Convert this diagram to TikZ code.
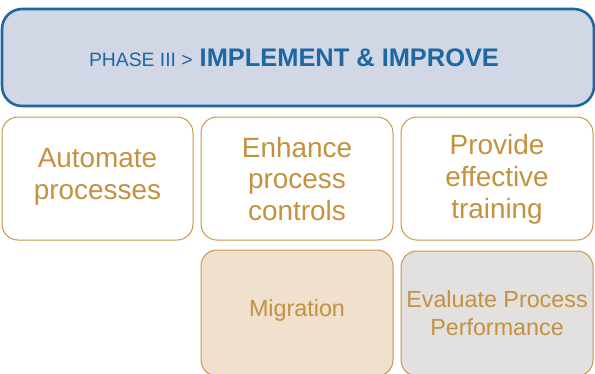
\documentclass[tikz,border=0pt]{standalone}
\usepackage{fontspec}
\setmainfont{Liberation Sans}
\definecolor{phaseblue}{HTML}{1D67A3}
\definecolor{phasefill}{HTML}{D1D7E5}
\definecolor{gold}{HTML}{C99546}
\definecolor{goldtext}{HTML}{C4913F}
\definecolor{sandfill}{HTML}{EFE1CD}
\definecolor{greyfill}{HTML}{E2E1E0}
\begin{document}
\begin{tikzpicture}[x=1bp,y=-1bp,
  header/.style={draw=phaseblue, line width=2.6bp, fill=phasefill, rounded corners=20bp},
  task/.style={draw=gold, line width=1bp, fill=white, rounded corners=16bp,
    text=goldtext, align=center, font=\fontsize{28}{32}\selectfont},
  subtask/.style={task, font=\fontsize{23.4}{27.5}\selectfont}]
\clip (0,0) rectangle (595,373);
\useasboundingbox (0,0) rectangle (595,373);
% phase banner
\draw[header] (2,9) rectangle (594,106);
\node[text=phaseblue, anchor=base] (title) at (294,66)
  {\fontsize{19.4}{22}\selectfont PHASE III \textgreater\hspace{7bp}\fontsize{25.5}{30}\selectfont\bfseries IMPLEMENT \& IMPROVE};
% first row of tasks
\draw[task] (2,117) rectangle (193,240);
\node[task, draw=none, fill=none] (auto) at (97.5,177) {Automate\\processes};
\draw[task] (201,117) rectangle (393,240);
\node[task, draw=none, fill=none] (ctrl) at (297,179) {Enhance\\process\\controls};
\draw[task] (401,117) rectangle (593,240);
\node[task, draw=none, fill=none] (train) at (497,179) {Provide\\effective\\training};
% second row of tasks
\draw[subtask, fill=sandfill] (201,250) rectangle (393,376);
\node[subtask, draw=none, fill=none] (migr) at (297,310) {Migration};
\draw[subtask, fill=greyfill] (401,251) rectangle (593,376);
\node[subtask, draw=none, fill=none] (eval) at (497,313) {Evaluate Process\\Performance};
\end{tikzpicture}
\end{document}
